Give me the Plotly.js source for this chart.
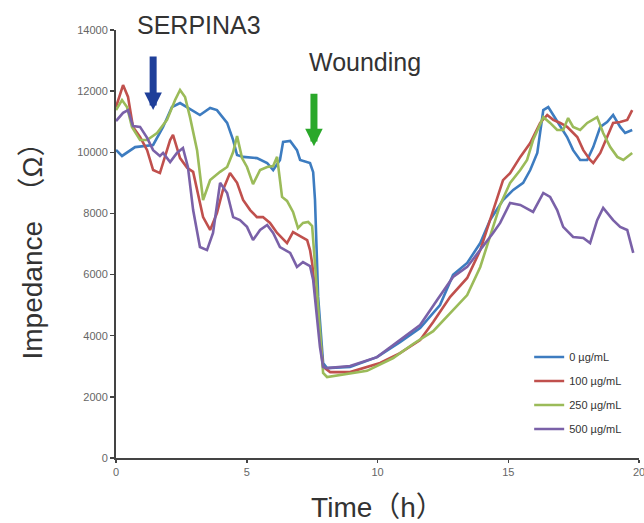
<!DOCTYPE html>
<html>
<head>
<meta charset="utf-8">
<script src="https://cdn.plot.ly/plotly-3.0.1.min.js"></script>
<style>html,body{margin:0;padding:0;background:#fff;}#chart{width:644px;height:523px;}</style>
</head>
<body>
<div id="chart"></div>
<script>
// Series names
const seriesNames = ["0 µg/mL", "100 µg/mL", "250 µg/mL", "500 µg/mL"];
const seriesColors = ["#3d7cc0", "#c0504d", "#9bbb59", "#7a61a8"];

// 0 µg/mL
const t0 = [0,0.23,0.73,1.42,1.80,2.14,2.45,2.72,3.21,3.60,3.86,4.25,4.48,4.63,4.86,5.39,5.78,6.01,6.27,6.39,6.66,6.92,7.04,7.42,7.54,7.61,7.65,7.73,7.92,8.07,8.95,9.98,10.86,11.63,12.39,12.89,13.43,13.93,14.31,14.80,15.19,15.57,15.84,16.11,16.34,16.53,16.72,16.99,17.25,17.48,17.75,18.02,18.25,18.52,18.78,19.01,19.28,19.47,19.74];
const z0 = [10075,9880,10170,10240,10830,11480,11610,11480,11220,11450,11380,10960,10400,9910,9850,9810,9650,9420,9750,10340,10370,10070,9750,9650,9350,8440,7460,5270,3110,2940,2980,3300,3790,4250,5000,5990,6380,7030,7790,8440,8770,9000,9420,9980,11380,11480,11220,10830,10500,10070,9750,9750,10170,10830,10990,11220,10830,10630,10730];

// 100 µg/mL
const t1 = [0,0.27,0.46,0.65,0.92,1.19,1.42,1.68,1.87,2.07,2.18,2.45,2.72,2.95,3.33,3.60,3.86,4.09,4.36,4.63,4.86,5.13,5.39,5.62,5.89,6.16,6.54,6.77,7.04,7.31,7.42,7.50,7.73,7.92,8.19,8.95,10.10,10.86,11.63,12.13,12.78,13.43,13.93,14.31,14.58,14.80,15.07,15.46,15.84,16.22,16.49,16.72,16.99,17.25,17.64,17.87,18.13,18.25,18.52,18.78,19.01,19.28,19.55,19.74];
const z1 = [11480,12200,11810,10830,10500,10070,9420,9320,9850,10400,10570,9810,9490,9360,7880,7460,8010,8770,9320,9000,8440,8110,7880,7880,7690,7360,7030,7390,7260,7130,6800,6380,4510,2980,2810,2810,3110,3430,3860,4450,5270,5890,6800,7820,8540,9090,9320,9850,10300,10960,11220,11060,10960,10830,10500,10070,9750,9650,9980,10500,10960,10990,11060,11380];

// 250 µg/mL
const t2 = [0,0.23,0.42,0.61,0.92,1.19,1.57,1.95,2.26,2.45,2.64,2.83,3.10,3.33,3.60,3.98,4.25,4.48,4.63,4.82,5.01,5.24,5.51,5.78,6.01,6.16,6.35,6.54,6.77,6.96,7.15,7.35,7.50,7.61,7.92,8.07,9.60,10.60,11.36,12.13,12.78,13.43,13.93,14.31,14.69,15.07,15.46,15.72,15.95,16.34,16.60,16.87,17.10,17.29,17.48,17.75,18.02,18.40,18.63,18.90,19.17,19.40,19.74];
const z2 = [11380,11710,11480,10830,10400,10400,10630,11060,11710,12040,11810,11150,10070,8440,9090,9360,9520,10010,10530,9810,9520,8960,9420,9520,9550,9850,8540,8410,8050,7520,7690,7720,7590,6380,2780,2650,2850,3270,3730,4150,4740,5330,6250,7290,8280,9000,9420,9750,10400,11150,10960,10730,10730,11120,10830,10730,10960,11150,10630,10170,9850,9750,9980];

// 500 µg/mL
const t3 = [0,0.27,0.46,0.65,0.92,1.19,1.42,1.68,1.80,2.07,2.33,2.56,2.75,2.95,3.21,3.48,3.71,3.98,4.25,4.48,4.74,5.01,5.24,5.51,5.78,6.01,6.27,6.66,6.92,7.15,7.42,7.54,7.80,7.92,8.07,8.95,9.98,10.86,11.63,12.28,12.89,13.43,13.93,14.42,14.69,15.07,15.46,15.95,16.34,16.60,16.87,17.10,17.48,17.87,18.13,18.40,18.63,19.01,19.28,19.55,19.78];
const z3 = [11020,11290,11380,10860,10830,10470,10070,9880,9980,9680,9980,10140,9520,8110,6900,6800,7360,9000,8670,7880,7780,7560,7130,7460,7620,7360,6900,6710,6250,6410,6280,5820,3630,2980,2940,3010,3300,3860,4350,5170,5920,6250,6800,7360,7690,8340,8280,8050,8670,8540,8110,7560,7230,7200,7030,7780,8180,7780,7560,7460,6710];

const xs = [t0, t1, t2, t3];
const ys = [z0, z1, z2, z3];

const yTicks = [0, 2000, 4000, 6000, 8000, 10000, 12000, 14000];
const xTicks = [0, 5, 10, 15, 20];

const traces = seriesNames.map((n, i) => ({
  x: xs[i], y: ys[i], name: n, type: "scatter", mode: "lines",
  legendgroup: "g" + i,
  line: {color: seriesColors[i], width: 2.6},
  cliponaxis: false
}));

const tickFont = {family: "Liberation Sans, Arial, sans-serif", size: 11, color: "#666"};

const layout = {
  width: 644, height: 523,
  margin: {l: 116, r: 5, t: 30, b: 65},
  paper_bgcolor: "#fff", plot_bgcolor: "#fff",
  showlegend: true,
  legend: {
    x: 0.79, y: 0.27, xanchor: "left", yanchor: "top",
    bgcolor: "rgba(0,0,0,0)",
    font: {family: "Liberation Sans Narrow, Arial Narrow, Liberation Sans, Arial, sans-serif", size: 11, color: "#333"},
    traceorder: "grouped", tracegroupgap: 5, itemwidth: 30
  },
  xaxis: {
    range: [0, 20], tickvals: xTicks, ticktext: xTicks.map(String),
    showgrid: false, zeroline: false,
    showline: true, linecolor: "#444", linewidth: 2,
    ticks: "outside", ticklen: 3, tickcolor: "#444", tickwidth: 1.5,
    tickfont: tickFont, ticklabeloverflow: "allow",
    title: {text: "Time（h）", font: {family: "Liberation Sans, Arial, Noto Sans CJK JP, sans-serif", size: 28, color: "#333"}, standoff: 20}
  },
  yaxis: {
    range: [0, 14000], tickvals: yTicks, ticktext: yTicks.map(String),
    showgrid: false, zeroline: false,
    showline: true, linecolor: "#444", linewidth: 2,
    ticks: "outside", ticklen: 4, tickcolor: "#444", tickwidth: 1.5,
    tickfont: tickFont,
    title: {text: "Impedance &nbsp;（Ω）", font: {family: "Liberation Sans, Arial, Noto Sans CJK JP, sans-serif", size: 28, color: "#333"}, standoff: 26}
  },
  annotations: [
    {x: 3.16, y: 1.012, xref: "x", yref: "paper", yanchor: "middle", text: "SERPINA3", showarrow: false,
     font: {family: "Liberation Sans, Arial, sans-serif", size: 25, color: "#333"}},
    {x: 9.53, y: 12950, xref: "x", yref: "y", text: "Wounding", showarrow: false,
     font: {family: "Liberation Sans, Arial, sans-serif", size: 25, color: "#333"}},
    {x: 1.42, y: 11380, xref: "x", yref: "y", text: "", showarrow: true,
     ax: 0, ay: -55, arrowhead: 2, arrowsize: 0.5, arrowwidth: 7, arrowcolor: "#1f3f99"},
    {x: 7.57, y: 10200, xref: "x", yref: "y", text: "", showarrow: true,
     ax: 0, ay: -54, arrowhead: 2, arrowsize: 0.5, arrowwidth: 7, arrowcolor: "#2aa82a"}
  ]
};

Plotly.newPlot("chart", traces, layout, {displayModeBar: false, staticPlot: true});
</script>
</body>
</html>
